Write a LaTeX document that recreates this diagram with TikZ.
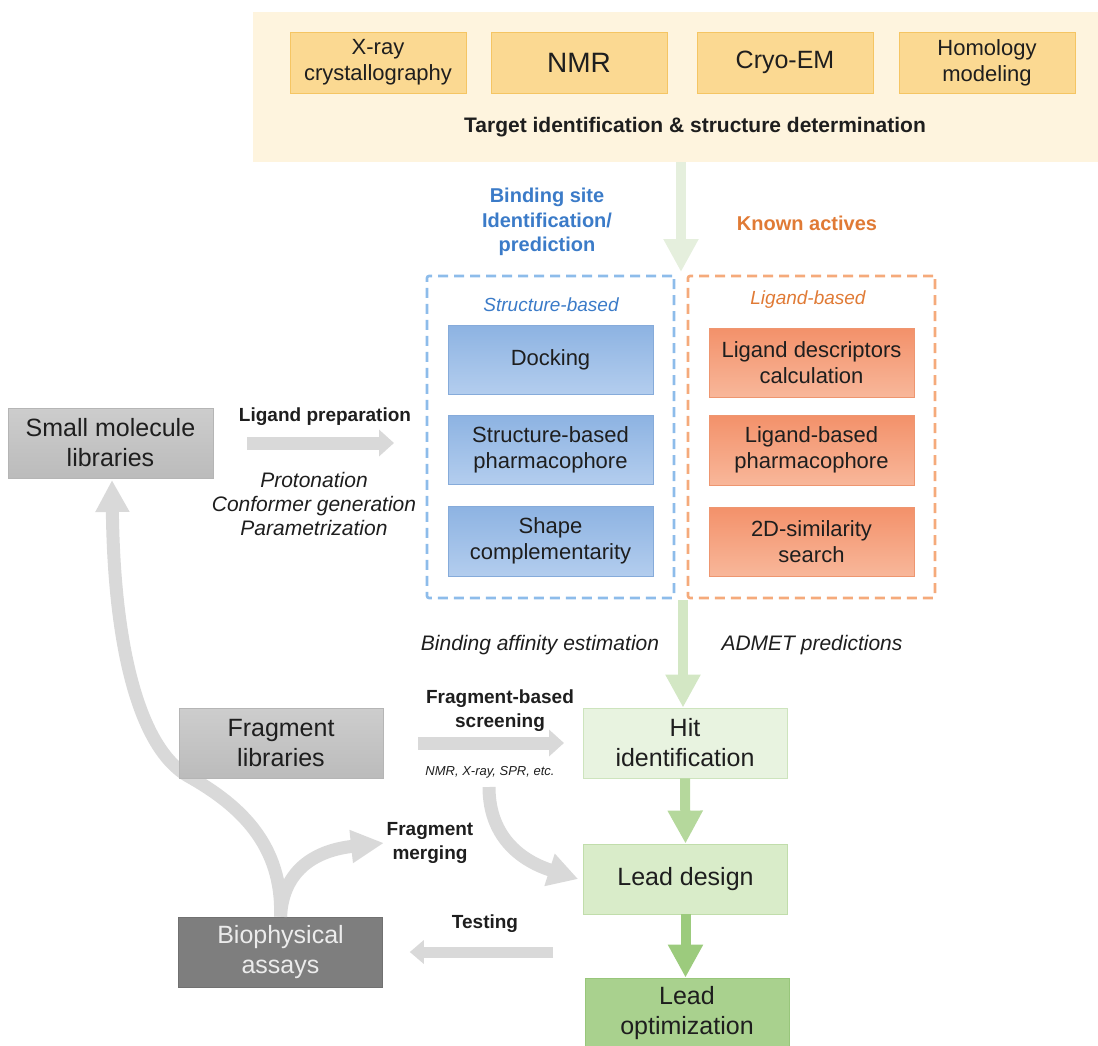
\documentclass[tikz,border=0pt]{standalone}
\usepackage{fontspec}
\setmainfont{Liberation Sans}
\usetikzlibrary{arrows.meta}
\definecolor{ybg}{HTML}{FEF4DE}
\definecolor{yfill}{HTML}{FBD992}
\definecolor{ydraw}{HTML}{F5C563}
\definecolor{btop}{HTML}{8DB3E2}
\definecolor{bbot}{HTML}{B3CDEE}
\definecolor{bdraw}{HTML}{86ABDA}
\definecolor{otop}{HTML}{F3916A}
\definecolor{obot}{HTML}{F8B79A}
\definecolor{odraw}{HTML}{EE9670}
\definecolor{bdash}{HTML}{8DBCEA}
\definecolor{odash}{HTML}{F5AA7B}
\definecolor{btext}{HTML}{3B7BC8}
\definecolor{otext}{HTML}{E07A35}
\definecolor{gtop}{HTML}{CDCDCD}
\definecolor{gbot}{HTML}{BBBBBB}
\definecolor{gdraw}{HTML}{B5B5B5}
\definecolor{dgray}{HTML}{7E7E7E}
\definecolor{ltxt}{HTML}{ECECEC}
\definecolor{arrgray}{HTML}{D9D9D9}
\definecolor{hitfill}{HTML}{E8F3E0}
\definecolor{hitdraw}{HTML}{CDE4BD}
\definecolor{ldfill}{HTML}{D9ECC9}
\definecolor{lddraw}{HTML}{C1DDAB}
\definecolor{lofill}{HTML}{A9D18E}
\definecolor{lodraw}{HTML}{98C67B}
\definecolor{gaa}{HTML}{E5EFDD}
\definecolor{gab}{HTML}{D3E7C4}
\definecolor{gac}{HTML}{B5D89C}
\definecolor{gad}{HTML}{9CCB7D}
\definecolor{txt}{HTML}{1E1E1E}
\begin{document}
\begin{tikzpicture}[x=1pt,y=-1pt,
  ybox/.style={rectangle, fill=yfill, draw=ydraw, line width=0.8pt, minimum width=176pt, minimum height=61pt, align=center, text=txt, inner sep=1pt},
  bbox/.style={rectangle, top color=btop, bottom color=bbot, draw=bdraw, line width=0.6pt, minimum width=205pt, minimum height=69pt, align=center, text=txt, font=\fontsize{22}{26}\selectfont},
  obox/.style={rectangle, top color=otop, bottom color=obot, draw=odraw, line width=0.6pt, minimum width=205pt, minimum height=69pt, align=center, text=txt, font=\fontsize{22}{26}\selectfont},
  gbox/.style={rectangle, top color=gtop, bottom color=gbot, draw=gdraw, line width=0.6pt, minimum width=204pt, minimum height=70pt, align=center, text=txt, font=\fontsize{25}{30}\selectfont},
  dbox/.style={rectangle, fill=dgray, draw=dgray!90!black, line width=0.6pt, minimum width=204pt, minimum height=70pt, align=center, text=ltxt, font=\fontsize{25}{30}\selectfont},
  grbox/.style={rectangle, minimum width=204pt, minimum height=70pt, align=center, text=txt, line width=0.8pt, font=\fontsize{25}{30}\selectfont},
  frame/.style={rectangle, line width=2.6pt, dash pattern=on 10pt off 6pt, rounded corners=2pt, minimum width=247pt, minimum height=322pt},
  blab/.style={align=center, font=\fontsize{19}{24}\selectfont\bfseries, text=txt},
  ilab/.style={align=center, font=\fontsize{21}{24}\selectfont\itshape, text=txt},
  grayarrow/.style={draw=arrgray, line width=13pt, -{Triangle[length=15pt,width=26pt]}},
  graycurve/.style={draw=arrgray, line width=13pt, -{Triangle[length=32pt,width=32pt]}},
  greenarrow/.style={draw=#1, line width=10pt, -{Triangle[length=33pt,width=33pt]}}
]
\useasboundingbox (0,0) rectangle (1098,1045);

% top band
\node[rectangle, fill=ybg, minimum width=845pt, minimum height=150pt, inner sep=0pt] (tgt) at (675.5,87) {};
\node[ybox, font=\fontsize{22}{26}\selectfont] (xray) at (378,62.5) {X-ray\\crystallography};
\node[ybox, font=\fontsize{28}{32}\selectfont] (nmr) at (579,62.5) {NMR};
\node[ybox, font=\fontsize{25}{30}\selectfont] (cryo) at (785,62.5) {Cryo-EM};
\node[ybox, font=\fontsize{22}{26}\selectfont] (homo) at (987,62.5) {Homology\\modeling};
\node[font=\fontsize{21}{24}\selectfont\bfseries, text=txt] (ttl) at (695,127) {Target identification \& structure determination};

% green arrow from target band
\coordinate (gtip) at (681,272);
\draw[greenarrow=gaa] (tgt.south -| gtip) -- (gtip);

% labels above frames
\node[align=center, font=\fontsize{20}{24.5}\selectfont\bfseries, text=btext] (bsite) at (547,222) {Binding site\\Identification/\\prediction};
\node[font=\fontsize{20}{24}\selectfont\bfseries, text=otext] (known) at (807,223) {Known actives};

% frames
\node[frame, draw=bdash] (sbf) at (550.5,437) {};
\node[frame, draw=odash] (lbf) at (811.5,437) {};
\node[font=\fontsize{19}{22}\selectfont\itshape, text=btext] (sbl) at (551,305) {Structure-based};
\node[font=\fontsize{19}{22}\selectfont\itshape, text=otext] (lbl) at (808,300) {Ligand-based};

\node[bbox] (dock) at (550.5,359.5) {Docking};
\node[bbox] (sbp) at (550.5,449.5) {Structure-based\\pharmacophore};
\node[bbox, minimum height=70pt] (shape) at (550.5,541) {Shape\\complementarity};
\node[obox] (ldc) at (811.5,362.5) {Ligand descriptors\\calculation};
\node[obox, minimum height=70pt] (lbp) at (811.5,450) {Ligand-based\\pharmacophore};
\node[obox] (sim) at (811.5,541.5) {2D-similarity\\search};

% left: small molecule libraries
\node[gbox, minimum width=205pt] (sml) at (110.5,443) {Small molecule\\libraries};
\node[blab] (lprep) at (325,417) {Ligand preparation};
\coordinate (lpa) at (247,443);
\coordinate (lpb) at (394,443);
\draw[grayarrow] (lpa) -- (lpb);
\node[ilab] (prot) at (314,504) {Protonation\\Conformer generation\\Parametrization};

% middle labels
\node[ilab] (bae) at (540,645) {Binding affinity estimation};
\node[ilab] (admet) at (812,645) {ADMET predictions};

% curves from biophysical assays
\node[dbox] (bio) at (280.5,952) {Biophysical\\assays};
\coordinate (smltip) at (112,480);
\draw[graycurve] (bio.north) .. controls (283,845) and (240,805) .. (188,776)
      .. controls (140,748) and (114,650) .. (smltip);
\coordinate (mtip) at (384,843);
\draw[graycurve, -{Triangle[length=33pt,width=31pt]}] (bio.north) .. controls (283,868) and (318,850) .. (mtip);
\node[gbox] (frag) at (281,743.5) {Fragment\\libraries};

% green column
\node[grbox, fill=hitfill, draw=hitdraw] (hit) at (685,743) {Hit\\identification};
\node[grbox, fill=ldfill, draw=lddraw] (lead) at (685.5,879) {Lead design};
\node[grbox, fill=lofill, draw=lodraw] (lopt) at (687,1013) {Lead\\optimization};

\coordinate (g2s) at (683,600);
\draw[greenarrow=gab] (g2s) -- (hit.north -| g2s);
\draw[greenarrow=gac] (hit.south) -- (lead.north);
\draw[greenarrow=gad] (lead.south) -- (lopt.north -| lead.south);

% fragment-based screening
\node[blab] (fbs) at (500,711) {Fragment-based\\screening};
\coordinate (fsa) at (418,743);
\coordinate (fsb) at (564,743);
\draw[grayarrow] (fsa) -- (fsb);
\node[font=\fontsize{13}{15}\selectfont\itshape, text=txt] (nmrx) at (490,772) {NMR, X-ray, SPR, etc.};
\coordinate (fcs) at (489,787);
\draw[graycurve, -{Triangle[length=30pt,width=32pt]}] (fcs) .. controls (489,840) and (525,862) .. ([xshift=-5pt]lead.west);

% fragment merging
\node[blab] (fmerge) at (430,843) {Fragment\\merging};

% testing
\node[blab] (test) at (485,924) {Testing};
\coordinate (tsa) at (553,952);
\draw[grayarrow, line width=11pt, -{Triangle[length=14pt,width=23pt]}] (tsa) -- ([xshift=27pt]bio.east);
\end{tikzpicture}
\end{document}
